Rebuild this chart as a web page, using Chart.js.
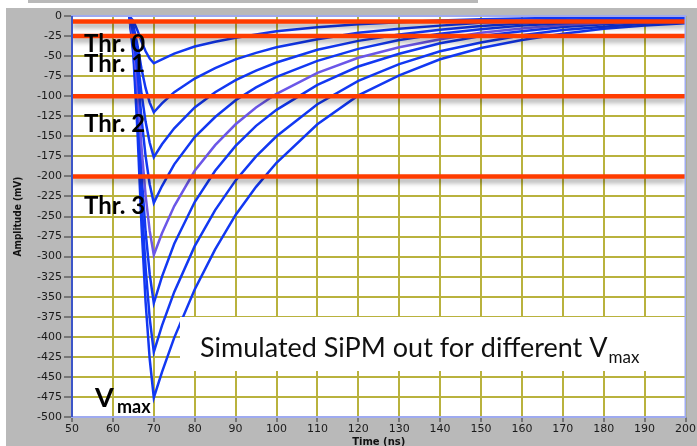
<!DOCTYPE html>
<html>
<head>
<meta charset="utf-8">
<script src="https://cdn.jsdelivr.net/npm/chart.js@4.4.1/dist/chart.umd.min.js"></script>
<style>
  html, body { margin: 0; padding: 0; background: #fff; }
  #wrap { width: 697px; height: 446px; }
</style>
</head>
<body>
<div id="wrap"><canvas id="pulseChart" width="697" height="446"></canvas></div>
<script>
// time axis (ns) shared by every simulated pulse
const timeNs = [64, 65, 66, 67, 68, 69, 70, 72, 75, 80, 85, 90, 95, 100, 110, 120, 130, 140, 150, 160, 170, 180, 190, 200];

// amplitude (mV) of each pulse, one array per Vmax
const pulse1 = [0, -6, -18, -32, -44, -53, -59, -54, -47, -38, -32, -27, -23, -19, -14, -10.4, -7.7, -5.7, -4.2, -3.1, -2.2, -1.7, -1.2, -0.9];
const pulse2 = [0, -12, -36, -66, -90, -108, -120, -109, -95, -78, -65, -54, -46, -39, -29, -21, -16, -12, -8.5, -6.2, -4.6, -3.5, -2.5, -1.9];
const pulse3 = [0, -18, -53, -97, -132, -158, -176, -160, -140, -114, -95, -80, -68, -58, -42, -31, -23, -17, -12.5, -9.2, -6.7, -5.1, -3.7, -2.8];
const pulse4 = [0, -23, -70, -128, -175, -210, -233, -212, -185, -151, -126, -105, -89, -76, -56, -41, -30, -22, -16.5, -12, -8.9, -6.8, -4.9, -3.7];
const pulse5 = [0, -30, -89, -164, -224, -268, -298, -271, -237, -193, -161, -135, -114, -97, -71, -52, -39, -29, -21, -15.5, -11.3, -8.6, -6.3, -4.8];
const pulse6 = [0, -36, -107, -197, -269, -322, -358, -325, -284, -232, -193, -162, -137, -117, -86, -63, -47, -34, -25, -19, -13.6, -10.4, -7.5, -5.7];
const pulse7 = [0, -42, -126, -230, -314, -377, -419, -386, -344, -287, -242, -205, -175, -150, -110, -81, -60, -44, -33, -24, -17.6, -13.4, -9.6, -7.1];
const pulse8 = [0, -48, -143, -262, -357, -428, -476, -444, -401, -341, -291, -248, -213, -183, -135, -99, -74, -54, -40, -30, -22, -16, -12, -9];

const pulses = [pulse1, pulse2, pulse3, pulse4, pulse5, pulse6, pulse7, pulse8];

// threshold levels (mV) and their names
const thresholdLevels = [-7, -25, -100, -200];
const thresholdNames = ['Thr. 0', 'Thr. 1', 'Thr. 2', 'Thr. 3'];

const timeRange = [50, 200];

const BLUE = '#1238f2';
const PURPLE = '#6b57e8';
const RED = '#ff3c00';
const GRID = '#b9b23e';

const datasets = [];

thresholdLevels.forEach(function (level) {
    datasets.push({
        isThreshold: true,
        data: timeRange.map(t => ({ x: t, y: level })),
        borderColor: RED,
        borderWidth: 4.5,
        pointRadius: 0,
        order: 0
    });
});

pulses.forEach(function (values, i) {
    datasets.push({
        data: timeNs.map((t, j) => ({ x: t, y: values[j] })),
        borderColor: i === 4 ? PURPLE : BLUE,
        borderWidth: 2.5,
        pointRadius: 0,
        tension: 0,
        order: 1
    });
});

// gray LabVIEW style frame behind the plot
const backdrop = {
    id: 'backdrop',
    beforeDraw(chart) {
        const ctx = chart.ctx, a = chart.chartArea;
        ctx.save();
        ctx.fillStyle = '#fff';
        ctx.fillRect(0, 0, chart.width, chart.height);
        ctx.fillStyle = '#b9b9b9';
        ctx.fillRect(28, 0, 450, 3);
        ctx.fillRect(6, 8, chart.width - 6, chart.height - 8);
        ctx.fillStyle = '#fff';
        ctx.fillRect(a.left, a.top, a.right - a.left, a.bottom - a.top);
        ctx.restore();
    }
};

// soft shadow under the threshold lines
const glow = {
    id: 'glow',
    beforeDatasetDraw(chart, args) {
        if (!chart.data.datasets[args.index].isThreshold) return;
        const ctx = chart.ctx;
        ctx.save();
        ctx.shadowColor = 'rgba(0,0,0,0.35)';
        ctx.shadowBlur = 5;
        ctx.shadowOffsetY = 4;
    },
    afterDatasetDraw(chart, args) {
        if (chart.data.datasets[args.index].isThreshold) chart.ctx.restore();
    }
};

// text box, threshold names and Vmax label
const notes = {
    id: 'notes',
    afterDatasetsDraw(chart) {
        const ctx = chart.ctx, a = chart.chartArea;
        ctx.save();
        ctx.fillStyle = '#fff';
        ctx.fillRect(180, 317, a.right - 180, 54);

        ctx.fillStyle = '#111';
        ctx.textAlign = 'left';
        ctx.textBaseline = 'alphabetic';
        ctx.font = '27px Lato';
        const caption = 'Simulated SiPM out for different V';
        ctx.fillText(caption, 200, 357);
        const cw = ctx.measureText(caption).width;
        ctx.font = '17px Lato';
        ctx.fillText('max', 200 + cw + 1, 363);

        ctx.fillStyle = '#000';
        ctx.font = 'bold 24px Lato';
        const baselines = [52, 72, 132, 214];
        thresholdNames.forEach(function (name, i) {
            ctx.fillText(name, 84, baselines[i]);
        });

        ctx.font = 'bold 27px Lato';
        ctx.fillText('V', 95, 407);
        ctx.font = 'bold 18px Lato';
        ctx.fillText('max', 117, 413);
        ctx.restore();
    },
    afterDraw(chart) {
        const ctx = chart.ctx, a = chart.chartArea;
        ctx.save();
        ctx.lineWidth = 2;
        ctx.strokeStyle = '#9eaaf0';
        ctx.strokeRect(a.left, a.top, a.right - a.left, a.bottom - a.top);
        ctx.strokeStyle = '#3c55c8';
        ctx.beginPath();
        ctx.moveTo(a.left, a.top);
        ctx.lineTo(a.left, a.bottom);
        ctx.stroke();

        ctx.fillStyle = '#111';
        ctx.font = 'bold 10px "DejaVu Sans"';
        ctx.textAlign = 'center';
        ctx.textBaseline = 'alphabetic';
        ctx.fillText('Time (ns)', (a.left + a.right) / 2, 445);

        ctx.translate(21, (a.top + a.bottom) / 2);
        ctx.rotate(-Math.PI / 2);
        ctx.font = 'bold 10px "DejaVu Sans Condensed", "DejaVu Sans"';
        ctx.fillText('Amplitude (mV)', 0, 0);
        ctx.restore();
    }
};

const ctx = document.getElementById('pulseChart').getContext('2d');
const pulseChart = new Chart(ctx, {
    type: 'line',
    data: { datasets: datasets },
    options: {
        responsive: false,
        animation: false,
        devicePixelRatio: 1,
        layout: { padding: { left: 0, top: 16, right: 11, bottom: 0 } },
        plugins: {
            legend: { display: false },
            tooltip: { enabled: false }
        },
        scales: {
            x: {
                type: 'linear',
                min: 50,
                max: 200,
                afterFit: function (scale) { scale.height = 29; },
                ticks: {
                    stepSize: 10,
                    autoSkip: false,
                    maxRotation: 0,
                    padding: 1,
                    color: '#1a1a1a',
                    font: { family: 'DejaVu Sans', size: 11 }
                },
                grid: { color: GRID, lineWidth: 2, tickColor: '#333', tickLength: 5, tickWidth: 1 },
                border: { display: false }
            },
            y: {
                min: -500,
                max: 0,
                afterFit: function (scale) { scale.width = 72; },
                ticks: {
                    stepSize: 25,
                    autoSkip: false,
                    padding: 2,
                    color: '#1a1a1a',
                    font: { family: 'DejaVu Sans', size: 11 }
                },
                grid: { color: GRID, lineWidth: 2, tickColor: '#333', tickLength: 8, tickWidth: 1 },
                border: { display: false }
            }
        }
    },
    plugins: [backdrop, glow, notes]
});
</script>
</body>
</html>
